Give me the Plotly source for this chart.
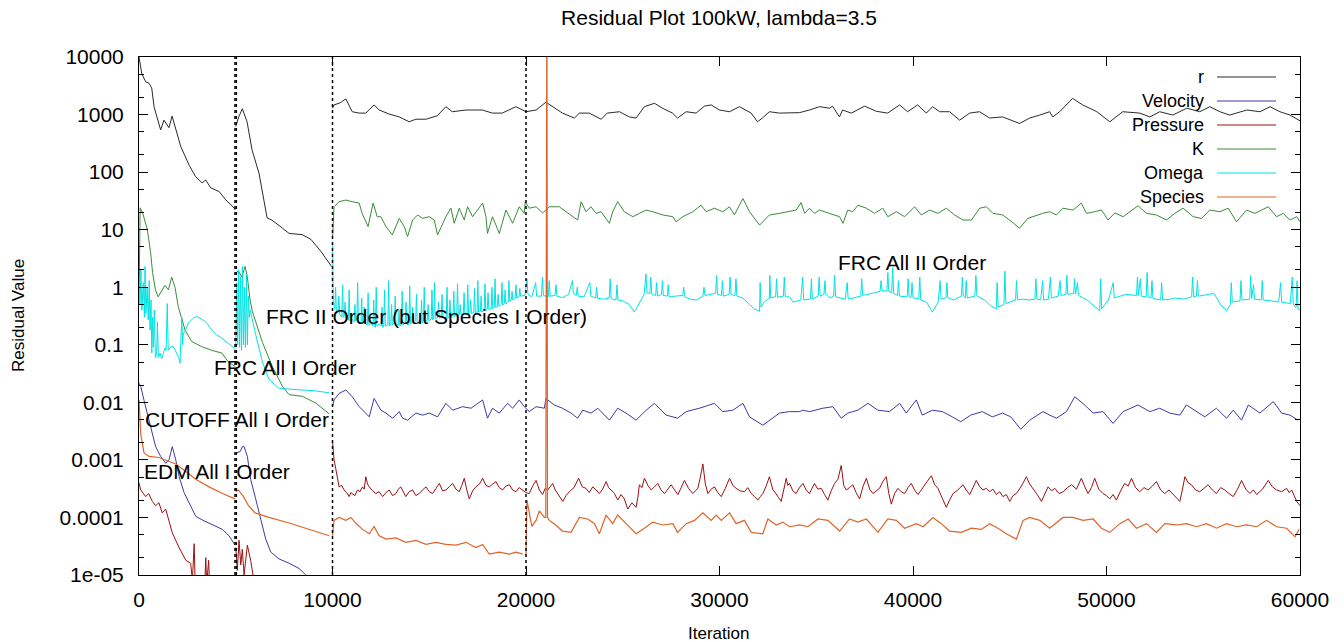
import plotly.graph_objects as go

# ---------------- data (iteration, residual); None = restart break ----------------
series_names = ["r", "Velocity", "Pressure", "K", "Omega", "Species"]
series_colors = ["#2a2a2a", "#3a3aa8", "#9b1010", "#3a8c3a", "#00e3e3", "#e0642a"]

r_pairs = [
    (0, 10000), (140, 5200), (345, 3700), (517, 3500), (657, 2900), (776, 1370), (1120, 540), (1290, 800),
    (1550, 590), (1710, 940), (2160, 277), (2590, 132), (2930, 83), (3260, 65), (3450, 73), (3710, 53),
    (4140, 46), (4480, 33), (4910, 24), (4970, 22),
    None,
    (5000, 620), (5150, 900), (5340, 1260), (5585, 750), (5845, 240), (6200, 96), (6620, 16), (6880, 14.6),
    (7400, 10.7), (7760, 8.6), (8430, 8.2), (8880, 6.8), (9400, 4.2), (9950, 2.3),
    None,
    (10000, 1290), (10080, 1470), (10400, 1600), (10690, 1870), (11020, 1120), (11380, 1060), (11720, 1060),
    (12150, 1470), (12410, 1200), (12930, 1020), (13450, 910), (13960, 750), (14310, 830), (14830, 830),
    (15410, 950), (15860, 1370), (16190, 1120), (16900, 1200), (17740, 1200), (18260, 1060), (18770, 1060),
    (19480, 1370), (20000, 1120), (20520, 1200), (21030, 1640), (21360, 1370), (21880, 1060), (22500, 870),
    (22760, 1060), (23270, 1060), (23880, 830), (24200, 1060), (24830, 1120), (25340, 910), (25690, 870),
    (26120, 1370), (26640, 1570), (27050, 1290), (27570, 1060), (27830, 870), (28280, 1120), (28790, 1060),
    (29220, 1400), (29570, 1470), (30000, 1200), (30520, 1120), (31030, 1370), (31640, 1060), (31960, 750),
    (32220, 870), (32580, 1120), (33100, 1060), (33620, 1060), (34140, 1080), (34650, 1200), (35170, 1370),
    (35690, 1290), (35840, 1400), (36200, 910), (36360, 1200), (36810, 1060), (37500, 1400), (38100, 1140),
    (38690, 1060), (39310, 1470), (39720, 1120), (40240, 1470), (40690, 1060), (41010, 1370), (41380, 1120),
    (41890, 1120), (42410, 800), (42930, 1060), (43440, 1120), (43960, 870), (44630, 910), (45510, 700),
    (46030, 870), (46550, 980), (47060, 1120), (47220, 910), (47580, 1120), (48250, 1910), (48770, 1470),
    (49500, 1120), (50170, 750), (50840, 1120), (51720, 1060), (52240, 910), (52750, 1120), (53430, 980),
    (54150, 1290), (54820, 1120), (55340, 1370), (55860, 1120), (56370, 980), (57250, 1200), (57930, 1120),
    (58450, 1370), (58960, 1120), (59480, 980), (59890, 800), (60000, 780),
]

velocity_pairs = [
    (0, 0.0215), (90, 0.019), (260, 0.0108), (430, 0.0064), (600, 0.0038), (860, 0.0017), (1120, 0.00115),
    (1380, 0.00087), (1550, 0.001), (1720, 0.0017), (1900, 0.001), (2070, 0.00052), (2330, 0.00027),
    (2590, 0.00018), (2930, 0.000105), (3280, 0.00009), (3620, 0.00008), (3970, 0.00007), (4310, 0.000062),
    (4650, 0.000048), (4970, 0.000033),
    None,
    (5000, 0.0013), (5240, 0.00141), (5340, 0.0017), (5430, 0.0017), (5600, 0.00115), (5770, 0.00046),
    (6030, 0.00021), (6290, 0.00009), (6550, 0.000042), (6810, 0.000025), (7240, 0.000019), (7760, 0.000016),
    (8270, 0.000013), (8620, 0.00001), (9000, 0.000007), (9900, 0.000005),
    None,
    (10000, 0.0084), (10080, 0.011), (10340, 0.0143), (10690, 0.0164), (11020, 0.0125), (11380, 0.0084),
    (11900, 0.0056), (12150, 0.0117), (12500, 0.0073), (12760, 0.0065), (13110, 0.0053), (13450, 0.0069),
    (13620, 0.0053), (13880, 0.0049), (14310, 0.0065), (14660, 0.006), (15000, 0.0065), (15430, 0.0056),
    (15860, 0.0096), (16210, 0.0073), (16720, 0.0084), (17160, 0.0079), (17760, 0.011), (18010, 0.0053),
    (18270, 0.0079), (18620, 0.0065), (19050, 0.0096), (19310, 0.0079), (19650, 0.011), (19910, 0.0084),
    (20170, 0.0069), (20520, 0.0084), (20950, 0.0079), (21030, 0.0117), (21460, 0.009), (21880, 0.0079),
    (22330, 0.0065), (22670, 0.0053), (22930, 0.0073), (23360, 0.0065), (23710, 0.0079), (24310, 0.0049),
    (24740, 0.0079), (25170, 0.0065), (25690, 0.0049), (26210, 0.0073), (26640, 0.0096), (27240, 0.006),
    (27830, 0.0053), (28280, 0.0069), (28960, 0.0079), (29740, 0.0096), (30170, 0.0069), (30690, 0.0073),
    (31210, 0.0096), (31550, 0.0056), (32240, 0.004), (32580, 0.0049), (33100, 0.0065), (33620, 0.0069),
    (34140, 0.0069), (34310, 0.0073), (34650, 0.0069), (35340, 0.0079), (35860, 0.0084), (36290, 0.0053),
    (36630, 0.0065), (37150, 0.0073), (37670, 0.0096), (38190, 0.0073), (38790, 0.0069), (39310, 0.0096),
    (39650, 0.0065), (40170, 0.011), (40480, 0.006), (41000, 0.0073), (41520, 0.0069), (42030, 0.0056),
    (42470, 0.0046), (42980, 0.006), (43580, 0.0069), (44100, 0.0056), (44630, 0.0065), (45050, 0.0056),
    (45570, 0.0034), (46030, 0.0049), (46720, 0.0069), (47060, 0.006), (47410, 0.0053), (47930, 0.0069),
    (48360, 0.0125), (48870, 0.009), (49310, 0.0065), (49820, 0.0069), (50340, 0.0043), (50860, 0.0069),
    (51630, 0.009), (52240, 0.0069), (52750, 0.0079), (53270, 0.0065), (53790, 0.006), (54130, 0.009),
    (54650, 0.0069), (55080, 0.0056), (55680, 0.0079), (56200, 0.0053), (56550, 0.0073), (56980, 0.0049),
    (57330, 0.009), (57930, 0.0065), (58620, 0.0103), (59050, 0.0065), (59480, 0.006), (59890, 0.0049),
]

pressure_pairs = [
    (0, 0.0004), (90, 0.0003), (345, 0.00023), (500, 0.00026), (690, 0.00019), (860, 0.00016), (1030, 0.00018),
    (1200, 0.00012), (1380, 0.00014), (1550, 0.00009), (1720, 0.000054), (2070, 0.00003), (2420, 0.000018),
    (2670, 0.000016), (2760, 0.000008), (2850, 0.000035), (2900, 0.000008), (3400, 0.000007), (3450, 0.00002),
    (3500, 0.000007), (3600, 0.000018), (3650, 0.000006),
    None,
    (5000, 0.00003), (5080, 0.000012), (5170, 0.00004), (5260, 0.000015), (5340, 0.000028), (5430, 0.00001),
    (5600, 0.000033), (5770, 0.000018), (5940, 0.000008), (6100, 0.000003),
    None,
    (10000, 0.0021), (10080, 0.001), (10170, 0.0007), (10250, 0.00051), (10340, 0.00034), (10470, 0.00036),
    (10600, 0.0003), (10730, 0.00027), (10860, 0.00023), (10950, 0.00027), (11030, 0.00026), (11160, 0.00024),
    (11290, 0.0003), (11420, 0.00028), (11550, 0.00034), (11640, 0.00031), (11720, 0.00051), (11810, 0.00038),
    (11900, 0.00034), (12070, 0.00029), (12240, 0.00026), (12410, 0.00028), (12590, 0.00023), (12760, 0.00027),
    (12930, 0.0003), (13100, 0.00024), (13280, 0.00026), (13400, 0.00031), (13530, 0.00034), (13660, 0.00027),
    (13790, 0.00023), (13960, 0.00028), (14140, 0.0003), (14310, 0.00024), (14480, 0.00026), (14650, 0.0003),
    (14830, 0.00034), (15000, 0.00028), (15170, 0.00026), (15350, 0.00032), (15520, 0.00039), (15690, 0.00029),
    (15860, 0.0003), (16030, 0.00034), (16210, 0.00039), (16380, 0.00031), (16550, 0.00028), (16680, 0.00036),
    (16810, 0.00048), (16940, 0.0003), (17070, 0.00021), (17240, 0.00029), (17410, 0.00034), (17590, 0.00038),
    (17760, 0.00048), (17930, 0.00036), (18100, 0.00034), (18280, 0.00038), (18450, 0.00042), (18620, 0.00033),
    (18790, 0.0003), (18960, 0.00035), (19140, 0.00037), (19310, 0.0003), (19480, 0.00028), (19650, 0.00033),
    (19830, 0.0003), (20000, 0.00027), (20170, 0.00026), (20340, 0.00035), (20520, 0.00044), (20690, 0.0003),
    (20860, 0.00025), (20990, 0.00032), (21120, 0.0003), (21250, 0.00034), (21380, 0.00039), (21510, 0.0003),
    (21640, 0.00026), (21770, 0.00022), (21900, 0.00019), (22070, 0.00024), (22240, 0.00028), (22480, 0.00033),
    (22720, 0.00048), (22910, 0.00034), (23100, 0.00032), (23270, 0.00027), (23450, 0.00034), (23620, 0.0003),
    (23790, 0.00026), (23960, 0.00031), (24140, 0.00042), (24270, 0.00033), (24400, 0.0003), (24570, 0.00026),
    (24740, 0.0002), (24910, 0.00025), (25080, 0.00021), (25170, 0.00017), (25260, 0.00014), (25470, 0.00018),
    (25690, 0.00015), (25780, 0.00022), (25860, 0.00037), (25990, 0.00033), (26120, 0.00048), (26300, 0.00036),
    (26470, 0.0003), (26640, 0.00034), (26810, 0.00039), (26980, 0.0003), (27160, 0.00026), (27330, 0.00031),
    (27500, 0.00037), (27680, 0.0003), (27850, 0.00025), (28020, 0.00033), (28190, 0.00044), (28400, 0.00032),
    (28620, 0.00026), (28750, 0.00029), (28880, 0.00032), (29010, 0.0005), (29140, 0.00085), (29270, 0.00038),
    (29400, 0.00026), (29570, 0.00031), (29740, 0.00034), (29910, 0.00027), (30090, 0.00023), (30300, 0.00032),
    (30520, 0.00048), (30690, 0.00036), (30860, 0.00032), (31070, 0.00029), (31290, 0.00028), (31460, 0.00033),
    (31640, 0.00026), (31810, 0.00023), (31980, 0.0002), (32110, 0.00023), (32240, 0.00026), (32410, 0.00035),
    (32580, 0.00051), (32750, 0.00031), (32930, 0.00026), (33060, 0.00022), (33190, 0.00019), (33320, 0.00032),
    (33450, 0.00048), (33530, 0.00036), (33620, 0.00039), (33790, 0.00029), (33960, 0.00026), (34130, 0.00033),
    (34310, 0.00039), (34480, 0.0003), (34650, 0.00026), (34780, 0.00032), (34910, 0.00039), (35080, 0.00031),
    (35260, 0.00032), (35430, 0.00025), (35600, 0.0002), (35770, 0.00029), (35950, 0.00039), (36120, 0.00046),
    (36290, 0.0008), (36420, 0.00036), (36550, 0.0003), (36720, 0.00033), (36890, 0.00037), (37060, 0.00027),
    (37240, 0.00021), (37410, 0.00034), (37590, 0.00048), (37760, 0.00031), (37930, 0.00026), (38100, 0.00029),
    (38270, 0.00032), (38440, 0.00042), (38620, 0.00051), (38750, 0.00026), (38880, 0.00017), (39050, 0.00026),
    (39220, 0.00032), (39390, 0.00028), (39570, 0.00026), (39740, 0.00033), (39910, 0.00039), (40080, 0.0003),
    (40260, 0.00025), (40430, 0.0003), (40600, 0.00037), (40770, 0.00044), (40950, 0.00053), (41120, 0.00037),
    (41290, 0.00032), (41500, 0.00022), (41720, 0.00015), (41890, 0.0002), (42070, 0.00026), (42320, 0.0003),
    (42580, 0.00037), (42750, 0.0003), (42930, 0.00025), (43100, 0.00033), (43270, 0.00044), (43450, 0.00034),
    (43620, 0.0003), (43790, 0.00032), (43960, 0.00028), (44130, 0.00031), (44310, 0.00025), (44480, 0.00028),
    (44650, 0.00023), (44820, 0.00025), (45000, 0.00019), (45170, 0.00024), (45340, 0.00026), (45600, 0.00035),
    (45860, 0.00051), (46030, 0.00038), (46210, 0.00032), (46420, 0.00025), (46640, 0.00019), (46810, 0.00026),
    (46980, 0.00034), (47160, 0.00029), (47330, 0.00032), (47550, 0.00026), (47760, 0.00028), (47980, 0.00033),
    (48190, 0.00037), (48450, 0.00031), (48700, 0.00048), (48880, 0.00034), (49050, 0.00026), (49220, 0.00033),
    (49390, 0.00048), (49600, 0.00031), (49820, 0.00026), (50000, 0.00024), (50170, 0.00021), (50340, 0.00025),
    (50510, 0.0002), (50730, 0.00029), (50940, 0.00039), (51120, 0.00035), (51290, 0.00048), (51500, 0.00033),
    (51720, 0.00028), (51940, 0.00033), (52150, 0.0003), (52370, 0.00035), (52580, 0.00042), (52800, 0.0003),
    (53010, 0.00026), (53230, 0.0003), (53450, 0.00025), (53620, 0.00022), (53790, 0.00019), (53920, 0.0003),
    (54050, 0.00051), (54220, 0.0004), (54390, 0.00037), (54600, 0.0003), (54820, 0.00028), (55040, 0.00032),
    (55250, 0.00037), (55470, 0.0003), (55680, 0.00026), (55900, 0.00033), (56110, 0.0003), (56330, 0.00026),
    (56550, 0.00023), (56770, 0.00031), (56980, 0.00044), (57200, 0.00031), (57410, 0.00026), (57590, 0.0003),
    (57760, 0.00025), (58060, 0.00031), (58360, 0.00044), (58570, 0.00034), (58790, 0.0003), (59050, 0.00028),
    (59310, 0.00032), (59440, 0.00027), (59570, 0.0003), (59700, 0.00024), (59830, 0.00019), (60000, 0.00016),
]

k_pairs = [
    (0, 0.55), (60, 24), (200, 19), (430, 10), (600, 4), (700, 1.8), (850, 0.9), (990, 0.68), (1340, 1.08),
    (1520, 0.9), (1690, 1.5), (1860, 1.0), (2030, 0.46), (2380, 0.18), (2720, 0.114), (3240, 0.093),
    (3760, 0.08), (4280, 0.072), (4620, 0.05), (4970, 0.042),
    None,
    (5000, 1.7), (5130, 1.95), (5310, 1.5), (5480, 2.3), (5600, 1.5), (5740, 0.6), (5860, 0.38), (6170, 0.18),
    (6380, 0.11), (6890, 0.042), (7410, 0.019), (7760, 0.0136), (8450, 0.0127), (9140, 0.0097), (9830, 0.0063),
    None,
    (10000, 7), (10080, 25), (10340, 30.6), (10690, 32.7), (11020, 30.6), (11380, 29), (11530, 19.2),
    (11840, 11.3), (12100, 29), (12310, 16.8), (12500, 16.8), (12760, 11.3), (13090, 8.1), (13450, 15.7),
    (13710, 11.3), (13880, 7.6), (14140, 14.7), (14400, 18), (14660, 15.7), (15000, 16.8), (15260, 14.7),
    (15430, 8.1), (15860, 16.8), (16120, 23.6), (16290, 12.9), (16550, 23.6), (16810, 14.7), (16980, 25),
    (17240, 16.8), (17760, 29), (17930, 16.8), (18010, 8.6), (18270, 16.8), (18620, 8.6), (18960, 21.9),
    (19310, 12.9), (19650, 25), (19910, 19.2), (19960, 30.6), (20170, 23.6), (20520, 25), (20860, 19.5),
    (21210, 25), (21720, 25), (22070, 20.5), (22410, 16.8), (22670, 14.7), (22850, 30.6), (23100, 20.5),
    (23360, 25), (23620, 19.2), (23880, 20.5), (24140, 15.7), (24310, 12.9), (24480, 20.5), (24740, 30.6),
    (25080, 20.5), (25520, 16.8), (25860, 19.2), (26210, 21.9), (26550, 20.5), (27070, 18), (27590, 16.8),
    (27760, 13.7), (28100, 16.8), (28620, 20.5), (29050, 26.6), (29310, 20.5), (29740, 23.6), (30170, 20.5),
    (30520, 25), (30770, 18), (31210, 34.7), (31550, 20.5), (32070, 12), (32580, 18), (33100, 19.2),
    (33620, 20.5), (33960, 21.9), (34220, 29.6), (34400, 19.2), (34650, 23.6), (34910, 19.2), (35170, 21.9),
    (35690, 19.2), (36200, 16.8), (36380, 12.9), (36630, 21.9), (36890, 20.5), (37150, 26.6), (37590, 23.6),
    (38010, 19.2), (38440, 23.6), (38700, 16.8), (39140, 20.5), (39570, 16.8), (40080, 25), (40430, 18),
    (40860, 21.9), (41290, 19.2), (41720, 23.6), (42150, 18), (42580, 14.7), (43020, 14.7), (43450, 23.6),
    (43790, 25), (44130, 19.2), (44640, 18), (45100, 13.7), (45510, 10.6), (45930, 15.7), (46390, 18),
    (46700, 19.2), (47060, 20.5), (47410, 18), (47750, 23.6), (48270, 21.9), (48700, 29), (48960, 19.2),
    (49390, 20.5), (49740, 21.9), (50080, 14.7), (50430, 19.5), (50860, 16.8), (51200, 20.5), (51630, 26),
    (52070, 19.2), (52580, 18), (53100, 14.7), (53530, 19.2), (53960, 23.6), (54480, 16.8), (54910, 15.7),
    (55340, 21.9), (55860, 20.5), (56290, 23.6), (56720, 13.7), (57240, 21.9), (57670, 19.2), (58360, 25),
    (58790, 16.8), (59130, 19.2), (59480, 14.7), (59830, 16.8), (60000, 13.7),
]

omega_pairs = [
    (0, 1.5), (50, 0.5), (100, 2.0), (150, 0.4), (220, 1.2), (280, 0.3), (310, 2.3), (360, 0.35), (420, 1.0),
    (480, 0.27), (530, 1.3), (570, 0.18), (620, 0.6), (660, 0.072), (700, 0.3), (740, 0.09), (790, 0.4),
    (850, 0.06), (915, 0.07), (950, 0.25), (1000, 0.06), (1090, 0.072), (1170, 0.057), (1250, 0.07),
    (1340, 0.088), (1400, 0.08), (1460, 0.52), (1510, 0.08), (1600, 0.09), (1770, 0.094), (1950, 0.072),
    (2050, 0.06), (2120, 0.048), (2210, 0.3), (2260, 0.1), (2290, 0.16), (2380, 0.17), (2550, 0.24),
    (2810, 0.29), (2980, 0.31), (3240, 0.28), (3500, 0.24), (3760, 0.18), (4000, 0.15), (4280, 0.13),
    (4790, 0.094), (4970, 0.085),
    None,
    (5000, 0.09), (5050, 1.2), (5100, 0.1), (5150, 2.0), (5200, 0.09), (5250, 1.5), (5300, 0.08), (5350, 2.3),
    (5400, 0.1), (5450, 1.0), (5500, 0.09), (5550, 1.7), (5600, 0.1), (5650, 0.7), (5700, 0.3), (5750, 0.4),
    (6030, 0.15), (6380, 0.05), (6720, 0.025), (7240, 0.0175), (7760, 0.017), (8450, 0.0163), (9140, 0.0158),
    (9830, 0.0146),
    None,
    (10000, 6.0), (10040, 0.55), (10120, 0.42), (10160, 1.0), (10200, 0.38), (10290, 0.36), (10330, 0.7),
    (10370, 0.34), (10480, 0.3), (10520, 1.1), (10560, 0.3), (10610, 0.32), (10650, 0.55), (10690, 0.29),
    (10820, 0.27), (10860, 0.9), (10900, 0.26), (11010, 0.28), (11120, 0.25), (11160, 0.5), (11200, 0.26),
    (11260, 0.27), (11300, 1.2), (11340, 0.26), (11470, 0.24), (11510, 0.65), (11550, 0.23), (11600, 0.26),
    (11640, 0.45), (11680, 0.24), (11800, 0.22), (11840, 0.8), (11880, 0.22), (12000, 0.24), (12090, 0.21),
    (12130, 0.6), (12170, 0.22), (12220, 0.2), (12260, 1.0), (12300, 0.21), (12420, 0.23), (12520, 0.21),
    (12560, 0.45), (12600, 0.2), (12650, 0.22), (12690, 0.9), (12730, 0.21), (12860, 0.22), (12900, 1.3),
    (12940, 0.21), (13010, 0.23), (13050, 0.5), (13090, 0.22), (13200, 0.24), (13240, 0.7), (13280, 0.23),
    (13400, 0.22), (13440, 0.4), (13480, 0.21), (13560, 0.23), (13600, 0.85), (13640, 0.22), (13760, 0.24),
    (13800, 0.55), (13840, 0.23), (13950, 0.22), (13990, 1.05), (14030, 0.23), (14100, 0.25), (14140, 0.45),
    (14180, 0.24), (14300, 0.26), (14340, 0.75), (14380, 0.25), (14480, 0.23), (14560, 0.25), (14600, 0.6),
    (14640, 0.24), (14700, 0.26), (14740, 1.0), (14780, 0.25), (14900, 0.27), (14940, 0.5), (14980, 0.26),
    (15100, 0.28), (15140, 0.9), (15180, 0.27), (15230, 0.29), (15270, 1.2), (15310, 0.28), (15440, 0.3),
    (15480, 0.55), (15520, 0.29), (15620, 0.31), (15660, 0.75), (15700, 0.3), (15800, 0.28), (15880, 0.3),
    (15920, 1.0), (15960, 0.29), (16030, 0.31), (16070, 0.6), (16110, 0.3), (16230, 0.32), (16270, 0.85),
    (16310, 0.31), (16420, 0.33), (16460, 1.15), (16500, 0.32), (16560, 0.34), (16600, 0.5), (16640, 0.33),
    (16760, 0.35), (16800, 0.8), (16840, 0.34), (16950, 0.33), (16990, 1.1), (17030, 0.34), (17100, 0.36),
    (17140, 0.6), (17180, 0.35), (17300, 0.37), (17340, 0.95), (17380, 0.36), (17470, 0.35), (17510, 1.3),
    (17550, 0.37), (17640, 0.38), (17680, 0.7), (17720, 0.37), (17840, 0.4), (17880, 1.15), (17920, 0.39),
    (18000, 0.42), (18040, 0.8), (18080, 0.41), (18200, 0.43), (18240, 1.0), (18280, 0.42), (18360, 0.45),
    (18400, 1.4), (18440, 0.44), (18520, 0.47), (18560, 0.75), (18600, 0.46), (18720, 0.5), (18760, 1.2),
    (18800, 0.49), (18880, 0.52), (18920, 0.9), (18960, 0.51), (19080, 0.55), (19120, 1.3), (19160, 0.56),
    (19240, 0.6), (19280, 0.85), (19320, 0.6), (19440, 0.64), (19480, 1.1), (19520, 0.65), (19640, 0.68),
    (19680, 0.95), (19720, 0.7), (19850, 0.72), (19950, 0.72),
    (20050, 1.4), (20100, 0.75), (20300, 0.68), (20500, 1.2), (20550, 0.7), (20800, 0.7), (20850, 1.5),
    (20900, 0.72), (21150, 0.68), (21200, 1.3), (21250, 0.7), (21500, 0.72), (21550, 1.1), (21600, 0.7),
    (21890, 0.66), (22200, 0.75), (22400, 1.3), (22450, 0.78), (22600, 0.72), (22650, 1.0), (22700, 0.7),
    (23000, 0.68), (23300, 1.2), (23350, 0.7), (23600, 0.65), (23650, 1.0), (23700, 0.64), (24000, 0.62),
    (24300, 0.65), (24350, 1.4), (24400, 0.63), (24650, 0.6), (24700, 1.1), (24750, 0.6), (25000, 0.58),
    (25340, 0.5), (25600, 0.37), (25860, 0.55), (26100, 0.75), (26200, 1.7), (26250, 0.8), (26400, 0.78),
    (26450, 1.5), (26500, 0.75), (26700, 0.72), (26750, 1.2), (26800, 0.7), (27000, 0.75), (27050, 1.3),
    (27100, 0.72), (27300, 0.7), (27350, 1.1), (27400, 0.68), (27700, 0.7), (28100, 0.72), (28150, 1.0),
    (28200, 0.68), (28500, 0.62), (28800, 0.6), (29140, 0.7), (29200, 1.0), (29250, 0.72), (29500, 0.75),
    (29800, 0.78), (29850, 1.6), (29900, 0.75), (30100, 0.72), (30150, 1.3), (30200, 0.7), (30500, 0.75),
    (30550, 1.5), (30600, 0.74), (30800, 0.72), (30850, 1.4), (30900, 0.7), (31200, 0.65), (31550, 0.5),
    (31800, 0.42), (32070, 0.38), (32100, 1.2), (32150, 0.45), (32300, 0.55), (32580, 0.65), (32600, 1.6),
    (32650, 0.66), (32900, 0.68), (32950, 1.4), (33000, 0.67), (33300, 0.7), (33350, 1.5), (33400, 0.68),
    (33620, 0.68), (33800, 0.55), (34200, 0.6), (34300, 1.5), (34350, 0.6), (34700, 0.62), (34750, 1.4),
    (34800, 0.62), (35100, 0.7), (35150, 1.5), (35200, 0.7), (35400, 0.75), (35450, 1.3), (35500, 0.76),
    (35700, 0.65), (35900, 0.7), (35950, 1.6), (36000, 0.68), (36500, 0.62), (36600, 1.2), (36650, 0.62),
    (37000, 0.66), (37300, 0.7), (37350, 1.4), (37400, 0.72), (38000, 0.8), (38300, 0.85), (38350, 1.3),
    (38400, 0.88), (38650, 0.85), (38700, 1.8), (38750, 0.85), (38900, 0.8), (38950, 2.2), (39000, 0.78),
    (39200, 0.72), (39250, 1.3), (39300, 0.7), (39700, 0.68), (39750, 1.4), (39800, 0.68), (39900, 0.66),
    (39950, 1.2), (40000, 0.66), (40300, 0.62), (40350, 1.5), (40400, 0.6), (40700, 0.55), (41000, 0.37),
    (41300, 0.55), (41400, 1.3), (41450, 0.62), (41700, 0.65), (41750, 1.2), (41800, 0.66), (42100, 0.6),
    (42500, 0.7), (42550, 1.5), (42600, 0.7), (42700, 0.65), (42750, 1.3), (42800, 0.65), (43200, 0.7),
    (43250, 1.6), (43300, 0.7), (43700, 0.6), (44000, 0.48), (44300, 0.42), (44350, 1.2), (44400, 0.45),
    (44700, 0.5), (44750, 1.9), (44800, 0.52), (45000, 0.55), (45300, 0.6), (45350, 1.3), (45400, 0.6),
    (45700, 0.62), (46000, 0.6), (46300, 0.62), (46350, 1.4), (46400, 0.62), (46600, 0.6), (46700, 1.3),
    (46750, 0.6), (47000, 0.62), (47100, 1.5), (47150, 0.65), (47500, 0.7), (47600, 1.3), (47650, 0.72),
    (47900, 0.75), (47950, 1.6), (48000, 0.75), (48300, 0.78), (48350, 1.4), (48400, 0.76), (48500, 1.2),
    (48550, 0.72), (49000, 0.6), (49300, 0.5), (49650, 0.39), (49700, 1.4), (49750, 0.42), (50100, 0.6),
    (50350, 1.2), (50400, 0.65), (51000, 0.75), (51550, 0.72), (51600, 1.5), (51650, 0.72), (51750, 1.4),
    (51800, 0.7), (52050, 0.68), (52100, 1.8), (52150, 0.68), (52300, 0.65), (52350, 1.3), (52400, 0.64),
    (52800, 0.6), (52850, 1.2), (52900, 0.6), (53300, 0.62), (53500, 0.65), (54000, 0.62), (54400, 0.68),
    (54450, 1.5), (54500, 0.68), (54650, 0.7), (54700, 1.3), (54750, 0.7), (55000, 0.72), (55550, 0.78),
    (55900, 0.5), (56200, 0.39), (56400, 0.5), (56450, 1.2), (56500, 0.55), (56900, 0.58), (56950, 1.3),
    (57000, 0.6), (57400, 0.62), (57450, 1.6), (57500, 0.64), (57600, 1.1), (57650, 0.62), (58000, 0.6),
    (58050, 1.3), (58100, 0.6), (58500, 0.58), (58900, 0.55), (59000, 1.2), (59050, 0.55), (59500, 0.52),
    (59600, 1.5), (59650, 0.5), (59800, 0.45), (59850, 1.3), (59900, 0.42), (60000, 0.4),
]

species_pairs = [
    (0, 0.011), (50, 0.005), (90, 0.0028), (260, 0.00132), (520, 0.00115), (1030, 0.0011), (1380, 0.001),
    (1900, 0.00085), (2420, 0.00063), (2930, 0.00046), (3620, 0.00034), (4310, 0.00026), (4970, 0.00021),
    None,
    (5000, 0.00028), (5140, 0.0003), (5400, 0.00023), (5660, 0.00016), (6000, 0.00012), (6720, 0.0001),
    (7760, 0.00008), (8790, 0.000062), (9830, 0.000048),
    None,
    (10000, 0.000048), (10080, 0.000089), (10340, 0.0001), (10690, 0.000089), (10950, 0.0001), (11200, 0.00008),
    (11550, 0.000062), (11900, 0.000052), (12150, 0.00007), (12410, 0.000048), (12760, 0.000042),
    (13280, 0.000044), (13790, 0.000037), (14310, 0.00004), (14830, 0.000034), (15340, 0.000037),
    (15860, 0.000034), (16380, 0.000033), (16900, 0.000037), (17410, 0.00003), (17760, 0.000034),
    (18100, 0.000023), (18620, 0.000025), (19140, 0.000023), (19480, 0.000025), (19830, 0.000023),
    None,
    (20000, 0.000022), (20050, 0.0002), (20300, 0.00007), (20520, 0.000089), (20690, 0.00013), (20950, 0.0001),
    (21020, 0.0001), (21050, 300000), (21080, 300000), (21110, 0.0001),
    (21210, 0.000089), (21550, 0.000073), (21880, 0.000058), (22330, 0.000055), (22760, 0.0001),
    (23190, 0.000094), (23540, 0.000078), (23790, 0.000052), (24140, 0.00011), (24480, 0.000078),
    (24740, 0.00011), (25170, 0.000078), (25690, 0.000052), (26120, 0.000065), (26550, 0.000083),
    (27070, 0.000074), (27590, 0.000078), (27830, 0.000055), (28280, 0.000078), (28710, 0.000089),
    (29140, 0.00012), (29570, 0.000089), (29830, 0.00011), (30090, 0.000089), (30520, 0.00012),
    (30860, 0.000078), (31290, 0.000089), (31640, 0.000055), (32240, 0.000052), (32500, 0.000094),
    (32930, 0.000074), (33270, 0.000083), (33620, 0.000069), (34140, 0.000074), (34570, 0.000069),
    (35090, 0.000094), (35600, 0.000089), (36210, 0.000058), (36720, 0.000094), (37150, 0.000083),
    (37590, 0.000094), (38190, 0.000055), (38700, 0.000094), (39140, 0.000089), (39570, 0.000065),
    (40170, 0.000078), (40520, 0.000069), (41030, 0.0001), (41460, 0.000078), (41890, 0.000058),
    (42500, 0.000055), (43020, 0.000065), (43530, 0.000062), (43960, 0.000078), (44390, 0.000065),
    (44820, 0.000052), (45340, 0.000042), (45690, 0.000089), (46030, 0.0001), (46550, 0.000089),
    (47060, 0.000065), (47750, 0.0001), (48270, 0.0001), (48790, 0.000089), (49310, 0.000094),
    (49740, 0.000065), (50170, 0.000055), (50690, 0.000078), (51120, 0.000094), (51550, 0.000065),
    (52070, 0.000078), (52580, 0.000055), (53020, 0.000078), (53620, 0.000074), (54130, 0.000078),
    (54650, 0.000069), (55170, 0.000078), (55690, 0.000065), (56200, 0.000078), (56720, 0.000069),
    (57240, 0.000074), (57760, 0.000069), (58270, 0.000089), (58790, 0.000069), (59310, 0.000065),
    (59740, 0.000046), (59960, 0.000062),
]

restart_iterations = [4960, 5030, 10000, 20000]

y_tick_vals = [1e-5, 1e-4, 1e-3, 1e-2, 1e-1, 1, 10, 100, 1000, 10000]
y_tick_text = ["1e-05", "0.0001", "0.001", "0.01", "0.1", "1", "10", "100", "1000", "10000"]
x_tick_vals = [0, 10000, 20000, 30000, 40000, 50000, 60000]

stage_labels = ["EDM All I Order", "CUTOFF All I Order", "FRC All I Order",
                "FRC II Order (but Species I Order)", "FRC All II Order"]


def unzip(pairs):
    xs, ys = [], []
    for p in pairs:
        if p is None:
            xs.append(None)
            ys.append(None)
        else:
            xs.append(p[0])
            ys.append(p[1])
    return xs, ys


FONT = "Liberation Sans, Arial, sans-serif"
fig = go.Figure()

all_pairs = [r_pairs, velocity_pairs, pressure_pairs, k_pairs, omega_pairs, species_pairs]
for name, color, pairs in zip(series_names, series_colors, all_pairs):
    xs, ys = unzip(pairs)
    fig.add_trace(go.Scatter(x=xs, y=ys, mode="lines", name=name, connectgaps=False,
                             line=dict(color=color, width=1.2 if name == "Species" else 1),
                             showlegend=False))

# restart markers (dotted vertical lines)
for it in restart_iterations:
    fig.add_shape(type="line", xref="x", yref="paper", x0=it, x1=it, y0=0, y1=1,
                  line=dict(color="black", width=1.5, dash="dot"), layer="above")

# stage annotations (x in iterations, y in log10 of residual)
label_pos = [(155, -3.194), (207, -2.29), (3770, -1.387), (6460, -0.5), (36020, 0.438)]
for txt, (lx, ly) in zip(stage_labels, label_pos):
    fig.add_annotation(x=lx, y=ly, xref="x", yref="y", text=txt, showarrow=False,
                       xanchor="left", yanchor="middle", font=dict(size=21, color="black", family=FONT))

# manual gnuplot-style legend (text right, sample line right of it)
L, R, T, B, W, H = 139, 44, 57, 67, 1344, 642
pw, ph = W - L - R, H - T - B
legend_rows = [77, 101, 125, 149, 173, 197]
for name, color, py in zip(series_names, series_colors, legend_rows):
    yp = (H - B - py) / ph
    fig.add_annotation(x=(1206 - L) / pw, y=yp, xref="paper", yref="paper", text=name, showarrow=False,
                       xanchor="right", yanchor="middle", font=dict(size=18, color="black", family=FONT))
    fig.add_shape(type="line", xref="paper", yref="paper", x0=(1217 - L) / pw, x1=(1276 - L) / pw,
                  y0=yp, y1=yp, line=dict(color=color, width=1))

# axis titles
fig.add_annotation(x=-121 / pw, y=0.5, xref="paper", yref="paper", text="Residual Value", textangle=-90,
                   xanchor="center", yanchor="middle",
                   showarrow=False, font=dict(size=17, color="black", family=FONT))
fig.add_annotation(x=(718 - L) / pw, y=-(633 - (H - B)) / ph, xref="paper", yref="paper", text="Iteration",
                   showarrow=False, xanchor="center", yanchor="middle",
                   font=dict(size=17, color="black", family=FONT))

minor_vals = []
for e in range(-5, 4):
    minor_vals += [2 * 10 ** e, 5 * 10 ** e]

fig.update_layout(
    width=W, height=H, margin=dict(l=L, r=R, t=T, b=B),
    paper_bgcolor="white", plot_bgcolor="white",
    font=dict(family=FONT, color="black"),
    title=dict(text="Residual Plot 100kW, lambda=3.5", x=(719) / W, xanchor="center", xref="container",
               y=1 - 18 / H, yanchor="middle", yref="container", font=dict(size=21, family=FONT)),
    xaxis=dict(range=[0, 60000], tickvals=x_tick_vals, ticktext=[str(v) for v in x_tick_vals],
               ticks="inside", ticklen=9, tickcolor="black", showline=True, linecolor="black", linewidth=1,
               mirror="allticks", showgrid=False, zeroline=False, tickfont=dict(size=21),
               ticklabelstandoff=6),
    yaxis=dict(type="log", range=[-5, 4], tickvals=y_tick_vals, ticktext=y_tick_text,
               ticks="inside", ticklen=9, tickcolor="black", showline=True, linecolor="black", linewidth=1,
               mirror="allticks", showgrid=False, zeroline=False, tickfont=dict(size=21),
               ticklabelstandoff=10,
               minor=dict(tickvals=minor_vals, ticks="inside", ticklen=5, tickcolor="black", showgrid=False)),
    showlegend=False,
)

fig.write_html("out.html")
